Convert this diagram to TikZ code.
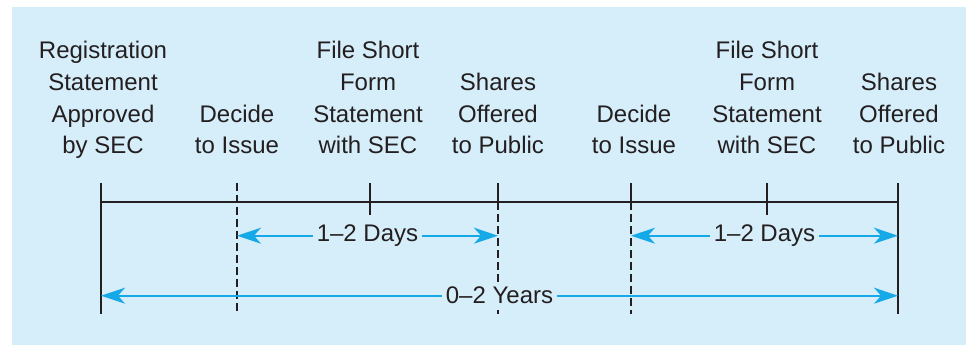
\documentclass[tikz,border=0pt]{standalone}
\usepackage{fontspec}
\setmainfont{Liberation Sans}
\usetikzlibrary{arrows.meta}
\definecolor{bgblue}{HTML}{D6EDFA}
\definecolor{arrcyan}{HTML}{16A9E8}
\definecolor{ink}{HTML}{231F20}
\tikzset{
  lbl/.style={anchor=south, align=center, inner sep=0pt, text=ink,
    font=\fontsize{24}{31.7}\selectfont},
  tl/.style={draw=ink, line width=1.4pt},
  dsh/.style={draw=ink, line width=1.4pt, dash pattern=on 7.5pt off 4.5pt},
  span/.style={draw=arrcyan, line width=1.9pt,
    {Stealth[length=24pt,width=16pt,inset=7pt]}-{Stealth[length=24pt,width=16pt,inset=7pt]}},
  spanlbl/.style={fill=bgblue, text=ink, inner sep=3.5pt,
    font=\fontsize{24}{28}\selectfont},
}
\begin{document}
\begin{tikzpicture}[x=1pt,y=-1pt]
\useasboundingbox (0,0) rectangle (966,345);
\fill[bgblue] (12,7) rectangle (966,345);
% labels
\node[lbl] (l1) at (103,163.5) {Registration\\Statement\\Approved\\by SEC\strut};
\node[lbl] (l2) at (237,163.5) {Decide\\to Issue\strut};
\node[lbl] (l3) at (368,163.5) {File Short\\Form\\Statement\\with SEC\strut};
\node[lbl] (l4) at (498,163.5) {Shares\\Offered\\to Public\strut};
\node[lbl] (l5) at (634,163.5) {Decide\\to Issue\strut};
\node[lbl] (l6) at (767,163.5) {File Short\\Form\\Statement\\with SEC\strut};
\node[lbl] (l7) at (899,163.5) {Shares\\Offered\\to Public\strut};
% timeline coordinates
\coordinate (a1) at (101,183); \coordinate (m1) at (101,202); \coordinate (b1) at (101,314);
\coordinate (a2) at (237,183); \coordinate (m2) at (237,202); \coordinate (b2) at (237,314);
\coordinate (a3) at (370,183); \coordinate (m3) at (370,202); \coordinate (b3) at (370,215);
\coordinate (a4) at (498,183); \coordinate (m4) at (498,202); \coordinate (b4) at (498,314);
\coordinate (a5) at (631,183); \coordinate (m5) at (631,202); \coordinate (b5) at (631,314);
\coordinate (a6) at (767,183); \coordinate (m6) at (767,202); \coordinate (b6) at (767,215);
\coordinate (a7) at (898,183); \coordinate (m7) at (898,202); \coordinate (b7) at (898,314);
% main line and ticks
\draw[tl] (m1) -- (m7);
\draw[tl] (a1) -- (b1);
\draw[dsh] (a2) -- (b2);
\draw[tl] (a3) -- (b3);
\draw[tl] (a4) -- (m4); \draw[dsh] (m4) -- (b4);
\draw[tl] (a5) -- (m5); \draw[dsh] (m5) -- (b5);
\draw[tl] (a6) -- (b6);
\draw[tl] (a7) -- (b7);
% spans
\coordinate (d1l) at (237,235.7); \coordinate (d1r) at (498,235.7);
\coordinate (d2l) at (631,235.7); \coordinate (d2r) at (898,235.7);
\coordinate (yl) at (101,295.7); \coordinate (yr) at (898,295.7);
\draw[span] (d1l) -- node[spanlbl] (days1) {1–2 Days} (d1r);
\draw[span] (d2l) -- node[spanlbl] (days2) {1–2 Days} (d2r);
\draw[span] (yl) -- node[spanlbl] (years) {0–2 Years} (yr);
\end{tikzpicture}
\end{document}
